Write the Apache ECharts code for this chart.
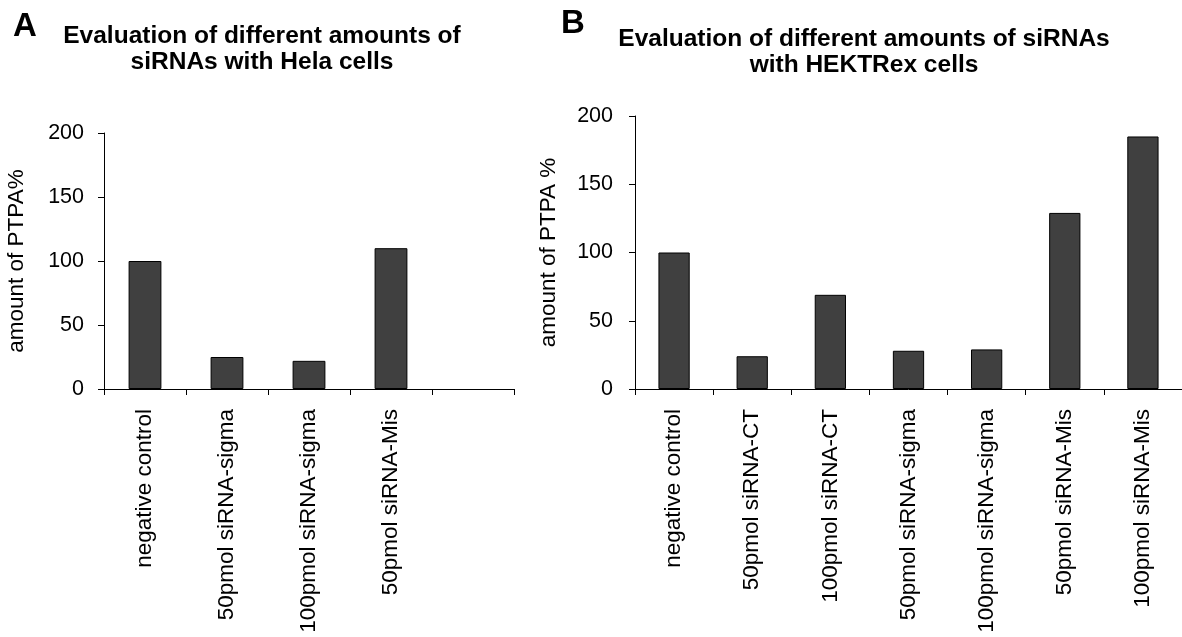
<!DOCTYPE html>
<html>
<head>
<meta charset="utf-8">
<script src="https://cdn.jsdelivr.net/npm/echarts@6/dist/echarts.min.js"></script>
<style>
html,body{margin:0;padding:0;background:#fff;}
#chart{width:1182px;height:637px;}
</style>
</head>
<body>
<div id="chart"></div>
<script>
// Panel A data
const catsA = ['negative control', '50pmol siRNA-sigma', '100pmol siRNA-sigma', '50pmol siRNA-Mis', ''];
const valsA = [100, 25, 22, 110, null];
// Panel B data
const catsB = ['negative control', '50pmol siRNA-CT', '100pmol siRNA-CT', '50pmol siRNA-sigma', '100pmol siRNA-sigma', '50pmol siRNA-Mis', '100pmol siRNA-Mis'];
const valsB = [100, 24, 69, 28, 29, 129, 185];
const yTicks = [0, 50, 100, 150, 200];

const FONT = 'Liberation Sans, Arial, sans-serif';
const chart = echarts.init(document.getElementById('chart'));

function xAxis(gridIndex, cats) {
  return {
    type: 'category', gridIndex, data: cats, boundaryGap: true,
    axisLine: {lineStyle: {color: '#000', width: 1}},
    axisTick: {show: true, interval: 0, length: 6, lineStyle: {color: '#000'}},
    axisLabel: {interval: 0, rotate: 90, margin: 20, color: '#000', fontSize: 22.5, fontFamily: FONT},
    splitLine: {show: false}
  };
}
function yAxis(gridIndex, name, margin, gap) {
  return {
    type: 'value', gridIndex, min: yTicks[0], max: yTicks[yTicks.length - 1], interval: 50,
    name, nameLocation: 'middle', nameRotate: 90, nameGap: gap,
    nameTextStyle: {color: '#000', fontSize: 22.5, fontFamily: FONT},
    axisLine: {show: true, lineStyle: {color: '#000', width: 1}},
    axisTick: {show: true, length: 6, lineStyle: {color: '#000'}},
    axisLabel: {margin, color: '#000', fontSize: 21.5, fontFamily: FONT},
    splitLine: {show: false}
  };
}
const barStyle = {color: '#404040', borderColor: '#000', borderWidth: 1};

chart.setOption({
  animation: false,
  backgroundColor: '#fff',
  title: [
    {text: 'A', left: 8, top: 5, textStyle: {fontSize: 33, fontWeight: 'bold', color: '#000', fontFamily: FONT}},
    {text: 'B', left: 556, top: 2, textStyle: {fontSize: 33, fontWeight: 'bold', color: '#000', fontFamily: FONT}},
    {text: 'Evaluation of different amounts of\nsiRNAs with Hela cells', left: 257, top: 18, textAlign: 'center',
      textStyle: {fontSize: 24.5, fontWeight: 'bold', color: '#000', fontFamily: FONT, lineHeight: 26, align: 'center'}},
    {text: 'Evaluation of different amounts of siRNAs\nwith HEKTRex cells', left: 859, top: 21, textAlign: 'center',
      textStyle: {fontSize: 24.5, fontWeight: 'bold', color: '#000', fontFamily: FONT, lineHeight: 26, align: 'center'}}
  ],
  grid: [
    {left: 104, top: 133, width: 410, height: 256},
    {left: 635, top: 116, width: 549, height: 273}
  ],
  xAxis: [xAxis(0, catsA), xAxis(1, catsB)],
  yAxis: [yAxis(0, 'amount of PTPA%', 20, 76), yAxis(1, 'amount of PTPA %', 22, 75)],
  series: [
    {type: 'bar', xAxisIndex: 0, yAxisIndex: 0, data: valsA, barWidth: '40%', itemStyle: barStyle},
    {type: 'bar', xAxisIndex: 1, yAxisIndex: 1, data: valsB, barWidth: '40%', itemStyle: barStyle}
  ]
});
</script>
</body>
</html>
